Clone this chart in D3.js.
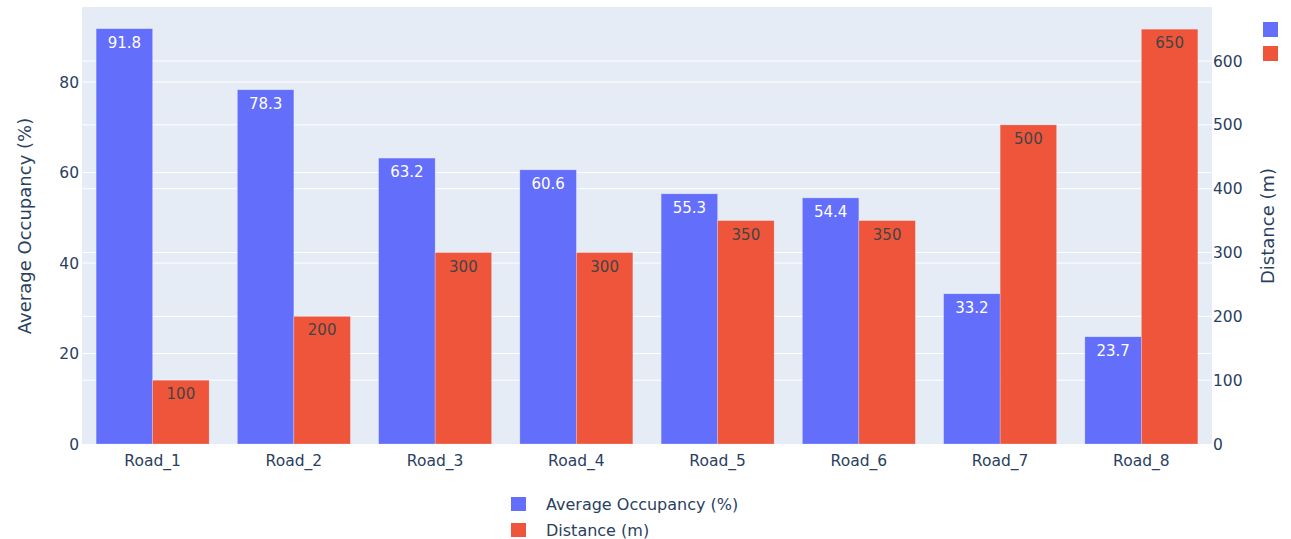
<!DOCTYPE html>
<html>
<head>
<meta charset="utf-8">
<script src="https://cdn.jsdelivr.net/npm/d3@7"></script>
<style>
  body { margin: 0; background: #fff; }
  text { font-family: "DejaVu Sans", sans-serif; }
</style>
</head>
<body>
<svg id="chart" width="1291" height="539"></svg>
<script>
const roads = ["Road_1", "Road_2", "Road_3", "Road_4", "Road_5", "Road_6", "Road_7", "Road_8"];
const occupancy = [91.8, 78.3, 63.2, 60.6, 55.3, 54.4, 33.2, 23.7];
const distance = [100, 200, 300, 300, 350, 350, 500, 650];
const leftTicks = [0, 20, 40, 60, 80];
const rightTicks = [0, 100, 200, 300, 400, 500, 600];
const seriesNames = ["Average Occupancy (%)", "Distance (m)"];

const blue = "#636efa", red = "#EF553B", ink = "#2a3f5f";
const plotL = 82, plotR = 1212, plotT = 7, plotB = 444;

const svg = d3.select("#chart");

const x = d3.scaleBand().domain(roads).range([plotL, plotR]).paddingInner(0.2).paddingOuter(0.1);
const x1 = d3.scaleBand().domain([0, 1]).range([0, x.bandwidth()]);
const yL = d3.scaleLinear().domain([0, 96.6]).range([plotB, plotT]);
const yR = d3.scaleLinear().domain([0, 684.7]).range([plotB, plotT]);

svg.append("rect")
    .attr("x", plotL).attr("y", plotT)
    .attr("width", plotR - plotL).attr("height", plotB - plotT)
    .attr("fill", "#E5ECF6");

// grid lines from both axes
svg.append("g").selectAll("line")
    .data(leftTicks.slice(1))
    .enter().append("line")
    .attr("x1", plotL).attr("x2", plotR)
    .attr("y1", (d) => yL(d)).attr("y2", (d) => yL(d))
    .attr("stroke", "#fff").attr("stroke-width", 1);

svg.append("g").selectAll("line")
    .data(rightTicks.slice(1))
    .enter().append("line")
    .attr("x1", plotL).attr("x2", plotR)
    .attr("y1", (d) => yR(d)).attr("y2", (d) => yR(d))
    .attr("stroke", "#fff").attr("stroke-width", 1);

// bars
const occBars = svg.append("g").selectAll("g")
    .data(roads.map((r, i) => ({ road: r, v: occupancy[i] })))
    .enter().append("g");

occBars.append("rect")
    .attr("x", (d) => x(d.road) + x1(0))
    .attr("y", (d) => yL(d.v))
    .attr("width", x1.bandwidth())
    .attr("height", (d) => plotB - yL(d.v))
    .attr("fill", blue)
    .attr("stroke", "rgba(229,236,246,0.6)").attr("stroke-width", 0.5);

occBars.append("text")
    .attr("x", (d) => x(d.road) + x1(0) + x1.bandwidth() / 2)
    .attr("y", (d) => yL(d.v) + 19)
    .attr("text-anchor", "middle")
    .style("font-size", "15px")
    .attr("fill", "#fff")
    .text((d) => d.v.toFixed(1));

const distBars = svg.append("g").selectAll("g")
    .data(roads.map((r, i) => ({ road: r, v: distance[i] })))
    .enter().append("g");

distBars.append("rect")
    .attr("x", (d) => x(d.road) + x1(1))
    .attr("y", (d) => yR(d.v))
    .attr("width", x1.bandwidth())
    .attr("height", (d) => plotB - yR(d.v))
    .attr("fill", red)
    .attr("stroke", "rgba(229,236,246,0.6)").attr("stroke-width", 0.5);

distBars.append("text")
    .attr("x", (d) => x(d.road) + x1(1) + x1.bandwidth() / 2)
    .attr("y", (d) => yR(d.v) + 19)
    .attr("text-anchor", "middle")
    .style("font-size", "15px")
    .attr("fill", "#444")
    .text((d) => d.v);

// axes
svg.append("g").selectAll("text")
    .data(leftTicks)
    .enter().append("text")
    .attr("x", plotL - 3).attr("y", (d) => yL(d) + 5.5)
    .attr("text-anchor", "end")
    .style("font-size", "15.5px")
    .attr("fill", ink)
    .text((d) => d);

svg.append("g").selectAll("text")
    .data(rightTicks)
    .enter().append("text")
    .attr("x", plotR + 1).attr("y", (d) => yR(d) + 5.5)
    .attr("text-anchor", "start")
    .style("font-size", "15.5px")
    .attr("fill", ink)
    .text((d) => d);

svg.append("g").selectAll("text")
    .data(roads)
    .enter().append("text")
    .attr("x", (d) => x(d) + x.bandwidth() / 2).attr("y", plotB + 22)
    .attr("text-anchor", "middle")
    .style("font-size", "15.5px")
    .attr("fill", ink)
    .text((d) => d);

svg.append("text")
    .attr("transform", "translate(31,226) rotate(-90)")
    .attr("text-anchor", "middle")
    .style("font-size", "18px")
    .attr("fill", ink)
    .text(seriesNames[0]);

svg.append("text")
    .attr("transform", "translate(1274,226) rotate(-90)")
    .attr("text-anchor", "middle")
    .style("font-size", "18px")
    .attr("fill", ink)
    .text(seriesNames[1]);

// legend at bottom
const legend = svg.append("g").selectAll("g")
    .data(seriesNames)
    .enter().append("g")
    .attr("transform", (d, i) => "translate(511," + (497 + 26 * i) + ")");

legend.append("rect")
    .attr("width", 15).attr("height", 14)
    .attr("fill", (d, i) => i == 0 ? blue : red);

legend.append("text")
    .attr("x", 35).attr("y", 13)
    .style("font-size", "16px")
    .attr("fill", ink)
    .text((d) => d);

// swatches with no labels, top right
svg.append("g").selectAll("rect")
    .data(seriesNames)
    .enter().append("rect")
    .attr("x", 1263).attr("y", (d, i) => 22 + 24 * i)
    .attr("width", 15).attr("height", 15)
    .attr("fill", (d, i) => i == 0 ? blue : red);
</script>
</body>
</html>
